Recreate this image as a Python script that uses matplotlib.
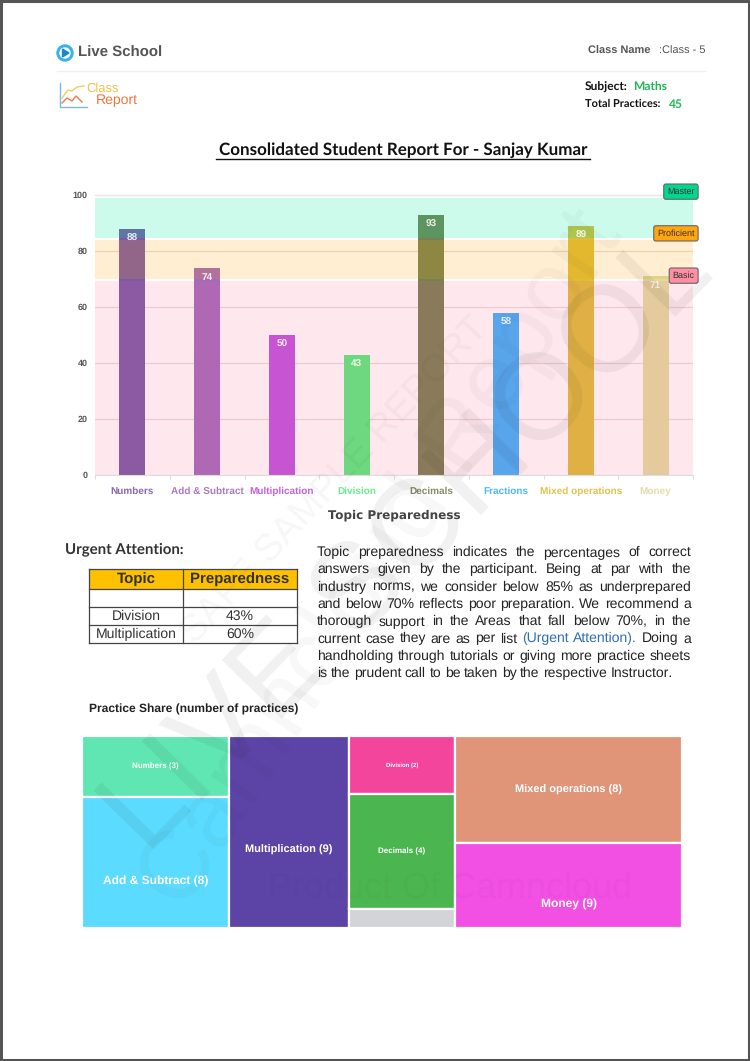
import matplotlib
matplotlib.use("Agg")
import matplotlib.pyplot as plt
from matplotlib.patches import Rectangle, Circle, Polygon

plt.rcParams["text.hinting"] = "no_hinting"
plt.rcParams["text.hinting_factor"] = 1

W, H = 750, 1061

# bar chart data
topics = ["Numbers", "Add & Subtract", "Multiplication", "Division",
          "Decimals", "Fractions", "Mixed operations", "Money"]
scores = [88, 74, 50, 43, 93, 58, 89, 71]
bar_colors = ["#7A59A7", "#A269BD", "#BE52DD", "#56EC7F",
              "#768052", "#3DB0FE", "#DDBD3A", "#E0DBA0"]
y_ticks = [0, 20, 40, 60, 80, 100]
band_names = ["Master", "Proficient", "Basic"]
band_low = [84.7, 70, 0]
band_high = [99, 84, 69.2]
band_colors = ["#00E69B", "#FFA500", "#FF6384"]
band_alpha = [0.2, 0.18, 0.14]
tag_colors = ["#00D68F", "#FFA50F", "#FF8FA3"]
tag_y = [101.2, 86.3, 71.2]

# table
table_head = ["Topic", "Preparedness"]
table_topics = ["", "Division", "Multiplication"]
table_values = ["", "43%", "60%"]

# treemap, sizes (they do not follow the printed counts)
tree_columns = [
    ["Numbers (3)", "Add & Subtract (8)"],
    ["Multiplication (9)"],
    ["Division (2)", "Decimals (4)", ""],
    ["Mixed operations (8)", "Money (9)"],
]
tree_sizes = [[3.5, 7.5], [9], [2.4, 4.8, 0.8], [9.5, 7.5]]
tree_colors = [["#5FE6B2", "#5BDBFF"], ["#5B44A6"],
               ["#F4459C", "#4BB54F", "#D2D4D7"], ["#E09478", "#F24FE3"]]
tree_fonts = [[5.5, 8.5], [8], [4, 6, 6], [8, 8.5]]
# labels sit lower than the cell centre in some cells (share of the chart height)
tree_shift = [[0, 0.1], [0.095], [0, 0, 0], [0, 0.1]]

paragraph = [
    "Topic preparedness indicates the percentages of correct",
    "answers given by the participant. Being at par with the",
    "industry norms, we consider below 85% as underprepared",
    "and below 70% reflects poor preparation. We recommend a",
    "thorough support in the Areas that fall below 70%, in the",
    "current case they are as per list (Urgent Attention). Doing a",
    "handholding through tutorials or giving more practice sheets",
    "is the prudent call to be taken by the respective Instructor.",
]

fig = plt.figure(figsize=(7.5, 10.61), dpi=100)


def px_axes(x0, y0, x1, y1, **kw):
    return fig.add_axes([x0 / W, 1 - y1 / H, (x1 - x0) / W, (y1 - y0) / H], **kw)


page = px_axes(0, 0, W, H)
page.set_xlim(0, W)
page.set_ylim(H, 0)
page.axis("off")
page.add_patch(Rectangle((1, 1), W - 2, H - 2, fill=False, ec="#555555", lw=2.2))

# header
page.add_patch(Circle((65, 53), 8, color="#35B4E8"))
page.add_patch(Circle((65, 53), 5, color="white"))
page.add_patch(Polygon([(62.5, 49), (62.5, 57), (69, 53)], color="#1C86C8"))
page.text(78, 53, "Live School", fontsize=10.9, fontweight="bold", color="#555555",
          family="Liberation Sans", va="center")
page.text(588, 51, "Class Name", fontsize=8.2, fontweight="bold", color="#555555",
          family="Liberation Sans", va="center")
page.text(705, 51, ":Class - 5", fontsize=8.2, color="#555555",
          family="Liberation Sans", va="center", ha="right")
page.plot([57, 705], [71, 71], color="#F0F0F0", lw=1)

page.plot([60, 60, 87], [83, 107, 107], color="#7FB8E8", lw=1)
page.plot([62, 68, 72, 77, 84], [98, 90, 91, 87, 86], color="#F4C95D", lw=1)
page.plot([62, 67, 72, 76, 82], [103, 98, 101, 96, 102], color="#F07A4A", lw=1)
page.text(86, 89, "Class", fontsize=9.5, color="#F2C04E", family="Liberation Sans", va="center")
page.text(96, 100, "Report", fontsize=10.3, color="#F0743E", family="Liberation Sans", va="center")

page.text(585, 87, "Subject:", fontsize=8.6, fontweight="bold", color="#111111",
          family="Lato", va="center")
page.text(633, 87, "Maths", fontsize=8.8, fontweight="bold", color="#1DB954",
          family="Lato", va="center")
page.text(585, 104, "Total Practices:", fontsize=8.1, fontweight="bold", color="#111111",
          family="Lato", va="center")
page.text(669, 104, "45", fontsize=8.8, fontweight="bold", color="#1DB954",
          family="Lato", va="center")

page.text(403, 150, "Consolidated Student Report For - Sanjay Kumar", fontsize=12.6,
          fontweight="bold", color="#111111", family="Lato", ha="center", va="center")
page.plot([216, 590], [159, 159], color="#111111", lw=1)

# bar chart
ax = px_axes(95, 195, 693, 475)
ax.set_xlim(-0.5, len(topics) - 0.5)
ax.set_ylim(0, 100)
ax.patch.set_alpha(0)
ax.bar(range(len(topics)), scores, width=0.35, color=bar_colors, zorder=2)
for i, s in enumerate(scores):
    ax.text(i, s - 1.7, str(s), color="white", fontsize=7.5, fontweight="bold",
            family="Liberation Sans", ha="center", va="top", zorder=5, alpha=0.85)
for low, high, c, a in zip(band_low, band_high, band_colors, band_alpha):
    ax.axhspan(low, high, color=c, alpha=a, lw=0, zorder=3)
ax.set_yticks(y_ticks)
ax.set_xticks([i - 0.5 for i in range(len(topics) + 1)], [""] * (len(topics) + 1))
ax.tick_params(axis="x", length=3, color="#DDDDDD")
ax.tick_params(axis="y", length=0, labelsize=6.8, labelcolor="#555555", pad=5.5)
for lab in ax.get_yticklabels():
    lab.set_family("Liberation Sans")
    lab.set_fontweight("bold")
ax.grid(axis="y", color="#EAD9D9", lw=0.8, zorder=1)
ax.grid(axis="x", visible=False)
for name in ["top", "right", "left"]:
    ax.spines[name].set_visible(False)
ax.spines["bottom"].set_color("#DDDDDD")
ax.plot([-0.5, len(topics) - 0.5], [100, 100], color="#E6E6E6", lw=1, clip_on=False)
for i, (t, c) in enumerate(zip(topics, bar_colors)):
    ax.annotate(t, (i, 0), xytext=(0, -12), textcoords="offset points", color=c,
                fontsize=6.9, family="Liberation Sans", fontweight="bold",
                ha="center", va="center", alpha=0.9)

# level tags beside the bands
for name, c, yy in zip(band_names, tag_colors, tag_y):
    ax.annotate(name, (1, yy), xycoords=("axes fraction", "data"), xytext=(1.2, 0),
                textcoords="offset points", fontsize=6.2, family="Liberation Sans",
                ha="right", va="center", color="#333333", annotation_clip=False,
                bbox=dict(boxstyle="round,pad=0.4,rounding_size=0.25", fc=c,
                          ec="#666666", lw=0.8), zorder=6)

page.text(394, 515, "Topic Preparedness", fontsize=8.9, fontweight="bold", color="#444444",
          family="DejaVu Sans", ha="center", va="center")

# urgent attention table
page.text(65, 549, "Urgent Attention:", fontsize=11, fontweight="bold", color="#333333",
          family="Lato", va="center")
tx = [89, 183, 297]
ty = [569, 589, 607, 625, 643]
page.add_patch(Rectangle((tx[0], ty[0]), tx[2] - tx[0], ty[1] - ty[0], color="#FFC000", lw=0))
for yy in ty:
    page.plot([tx[0], tx[2]], [yy, yy], color="#444444", lw=0.9)
for xx in tx:
    page.plot([xx, xx], [ty[0], ty[-1]], color="#444444", lw=0.9)
for j, head in enumerate(table_head):
    page.text((tx[j] + tx[j + 1]) / 2, (ty[0] + ty[1]) / 2, head, fontsize=10.5, fontweight="bold",
              color="#333333", family="Liberation Sans", ha="center", va="center")
for i, (a, b) in enumerate(zip(table_topics, table_values)):
    ym = (ty[i + 1] + ty[i + 2]) / 2
    page.text((tx[0] + tx[1]) / 2, ym, a, fontsize=10, color="#333333",
              family="Liberation Sans", ha="center", va="center")
    page.text((tx[1] + tx[2]) / 2, ym, b, fontsize=10, color="#333333",
              family="Liberation Sans", ha="center", va="center")

# justified paragraph
renderer = fig.canvas.get_renderer()
par_left, par_right = 317, 691
for n, line in enumerate(paragraph):
    yy = 556 + n * 17.3
    words = line.split(" ")
    items = [page.text(0, yy, w, fontsize=10.1, color="#222222", family="Liberation Sans", va="baseline")
             for w in words]
    widths = [t.get_window_extent(renderer).width for t in items]
    gap = (par_right - par_left - sum(widths)) / (len(words) - 1)
    if n == len(paragraph) - 1:
        gap = min(gap, 3.6)
    x = par_left
    for t, w_, word in zip(items, widths, words):
        t.set_x(x)
        if word in ("(Urgent", "Attention)."):
            t.set_color("#2E6DB4")
        x += w_ + gap

page.text(89, 709, "Practice Share (number of practices)", fontsize=8.6, fontweight="bold",
          color="#222222", family="Liberation Sans", va="center")

# treemap
tree = px_axes(82, 736, 682, 928)
tree.set_xlim(0, sum(sum(c) for c in tree_sizes))
tree.set_ylim(1, 0)
tree.axis("off")
x0 = 0
for names, sizes, colors, fonts, shifts in zip(tree_columns, tree_sizes, tree_colors, tree_fonts, tree_shift):
    total = sum(sizes)
    y0 = 0
    for name, s, c, fs, sh in zip(names, sizes, colors, fonts, shifts):
        h = s / total
        tree.add_patch(Rectangle((x0, y0), total, h, fc=c, ec="white", lw=1.6))
        tree.text(x0 + total / 2, y0 + h / 2 + sh, name, color="white", fontsize=fs, fontweight="bold",
                  family="Liberation Sans", ha="center", va="center")
        y0 += h
    x0 += total

# watermarks on top of everything
over = px_axes(0, 0, W, H)
over.set_xlim(0, W)
over.set_ylim(H, 0)
over.axis("off")
over.patch.set_alpha(0)
over.text(432, 566, "LIVE SCHOOL", fontsize=88, rotation=45.6, rotation_mode="anchor", color="#222222",
          alpha=0.065, family="Liberation Sans", ha="center", va="baseline")
over.text(335, 480, "SAFE SAMPLE REPORT", fontsize=27, rotation=47, rotation_mode="anchor", color="#222222",
          alpha=0.04, family="Liberation Sans", ha="center", va="center")
over.text(382, 560, "Camncloud Report", fontsize=70, rotation=57, rotation_mode="anchor", color="#222222",
          alpha=0.035, family="Liberation Sans", ha="center", va="center")
over.text(450, 888, "Product Of Camncloud", fontsize=26, color="#222222",
          alpha=0.025, family="Liberation Sans", ha="center", va="center")

fig.savefig("out.png", dpi=100)
